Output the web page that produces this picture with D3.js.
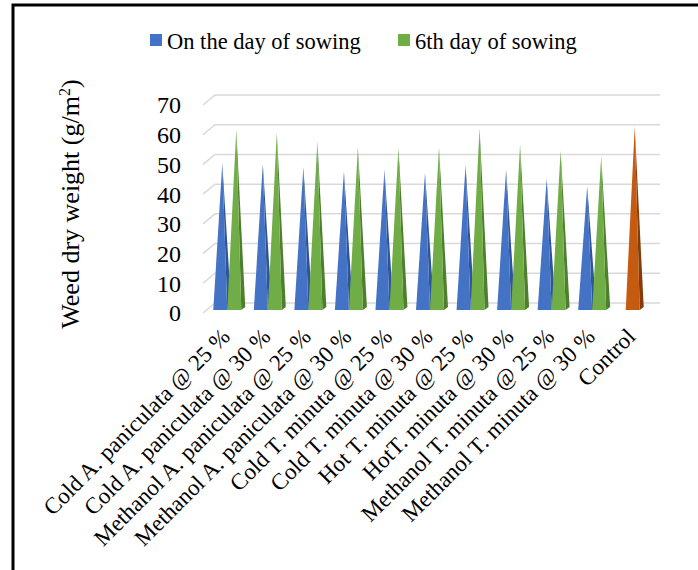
<!DOCTYPE html>
<html><head><meta charset="utf-8">
<script src="https://cdn.jsdelivr.net/npm/d3@7"></script>
<style>
body{margin:0;background:#fff}
svg{display:block}
text{font-family:"Liberation Serif","Times New Roman",serif;fill:#000}
</style>
</head><body>
<svg id="c" width="698" height="570"></svg>
<script>
const categories = [
  "Cold A. paniculata @ 25 %",
  "Cold A. paniculata @ 30 %",
  "Methanol A. paniculata @ 25 %",
  "Methanol A. paniculata @ 30 %",
  "Cold T. minuta @ 25 %",
  "Cold T. minuta @ 30 %",
  "Hot T. minuta @ 25 %",
  "HotT. minuta @ 30 %",
  "Methanol T. minuta @ 25 %",
  "Methanol T. minuta @ 30 %",
  "Control"
];
const seriesNames = ["On the day of sowing", "6th day of sowing"];
const daySowing = [48.8, 48.5, 47.5, 46, 46.5, 45.5, 48, 46.5, 43.5, 41];
const sixthDay  = [60, 59, 56, 54, 54, 54, 60.5, 55, 53, 51];
const controlValue = 61;
const yTicks = [0, 10, 20, 30, 40, 50, 60, 70];
const yTitle = "Weed dry weight (g/m";
const yTitleSup = "2";
const colors = ["#4472C4", "#70AD47"];
const sideColors = ["#2F5597", "#4E7F2E"];
const controlColor = "#C55A11";
const controlSide = "#843C0C";

const svg = d3.select("#c");

// frame
svg.append("path").attr("d", "M13,570 V5 H698")
  .attr("fill", "none").attr("stroke", "#000").attr("stroke-width", 3);

// 3D offsets
const depthX = 12, depthY = 10;
const y = d3.scaleLinear().domain([0, 70]).range([303, 95]); // back wall
const wallLeft = 215, wallRight = 660;

const x = d3.scaleBand().domain(categories).range([207, 653])
  .paddingInner(0.31).paddingOuter(0.155);
const xs = d3.scaleBand().domain([0, 1]).range([0, x.bandwidth()]);

// gridlines
const grid = svg.append("g");
yTicks.forEach(t => {
  grid.append("path")
    .attr("d", `M${wallLeft - depthX},${y(t) + depthY} L${wallLeft},${y(t)} H${wallRight}`)
    .attr("fill", "none").attr("stroke", "#D9D9D9").attr("stroke-width", 1.5);
});

// y tick labels
svg.append("g").selectAll("text").data(yTicks).join("text")
  .attr("x", 181).attr("y", d => y(d) + depthY)
  .attr("dy", "0.35em").attr("text-anchor", "end")
  .style("font-size", "24px").text(d => d);

// y title
const yt = svg.append("text")
  .attr("transform", "translate(79,204) rotate(-90)")
  .attr("text-anchor", "middle").style("font-size", "26px");
yt.append("tspan").text(yTitle);
yt.append("tspan").attr("dy", "-9").style("font-size", "16px").text(yTitleSup);
yt.append("tspan").attr("dy", "9").text(")");

// pyramids
const baseY = y(0) + 7;
function pyramid(g, x0, w, v, fill, side) {
  const x1 = x0 + w, xc = x0 + w / 2;
  const apexY = y(v) + 5;
  const sx = 4, sy = 3;
  g.append("path")
    .attr("d", `M${x1},${baseY} L${x1 + sx},${baseY - sy} L${xc + 2},${apexY} Z`)
    .attr("fill", side);
  g.append("path")
    .attr("d", `M${x0},${baseY} L${x1},${baseY} L${xc + 2},${apexY} Z`)
    .attr("fill", fill);
}
const bars = svg.append("g");
[daySowing, sixthDay].forEach((vals, si) => {
  vals.forEach((v, i) => {
    pyramid(bars, x(categories[i]) + xs(si), xs.bandwidth(), v, colors[si], sideColors[si]);
  });
});
{
  const c = categories[categories.length - 1];
  const w = xs.bandwidth();
  pyramid(bars, x(c) + x.bandwidth() / 2 - w / 2, w, controlValue, controlColor, controlSide);
}

// category labels
svg.append("g").selectAll("text").data(categories).join("text")
  .attr("transform", d => `translate(${x(d) + x.bandwidth() / 2 + 4},${338}) rotate(-45)`)
  .attr("text-anchor", "end").style("font-size", "23px").text(d => d);

// legend
const legend = svg.append("g");
const legX = [150, 398];
seriesNames.forEach((n, i) => {
  legend.append("rect").attr("x", legX[i]).attr("y", 34).attr("width", 12).attr("height", 12).attr("fill", colors[i]);
  legend.append("text").attr("x", legX[i] + 17).attr("y", 49).style("font-size", "22.5px").text(n);
});
</script>
</body></html>
